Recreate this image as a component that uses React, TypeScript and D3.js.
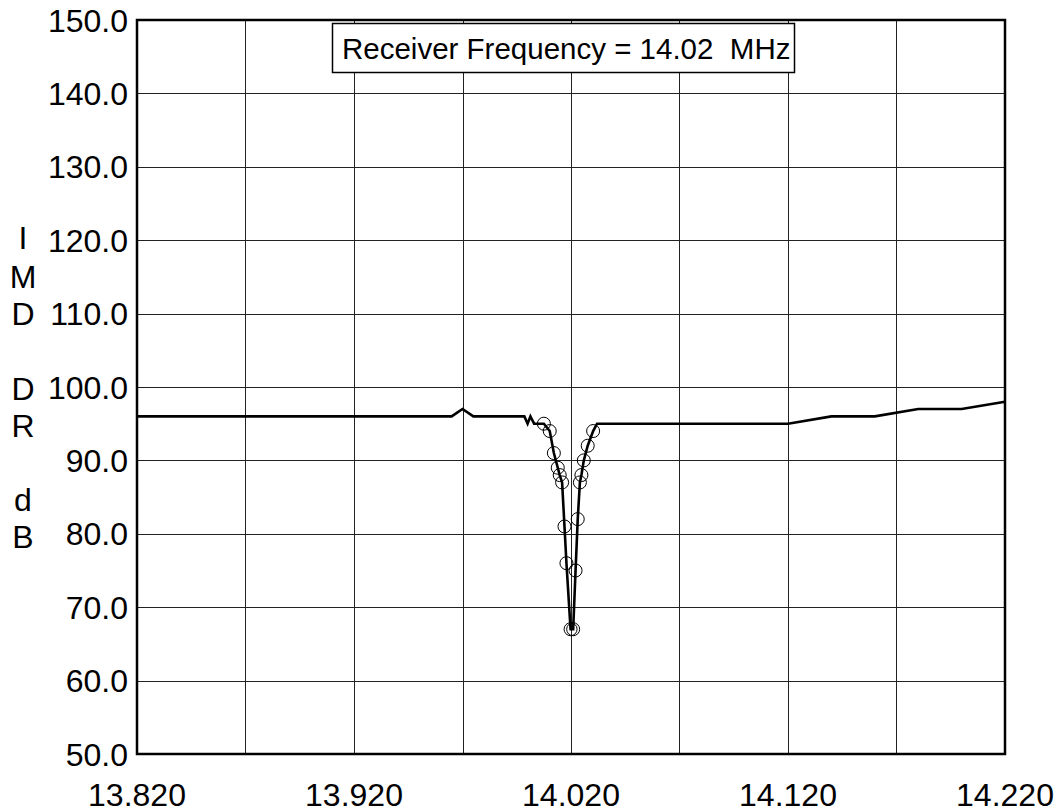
import { useEffect, useRef } from "react";
import * as d3 from "d3";

// trace (MHz, dB)
const lineFreq = [
  13.82, 13.965, 13.97, 13.975, 13.9985, 14.0, 14.0013, 14.003,
  14.0075, 14.0102, 14.0121, 14.0139, 14.0148, 14.0159, 14.017, 14.0179, 14.0198,
  14.021, 14.0221, 14.0231, 14.0241, 14.0248, 14.0259, 14.0277, 14.0302,
  14.032, 14.12, 14.14, 14.16, 14.18, 14.2, 14.22,
];
const lineDb = [
  96, 96, 97, 96, 96, 95, 96, 95,
  95, 94, 91, 89, 88, 87, 81, 76, 67,
  67, 75, 82, 87, 88, 90, 92, 94,
  95, 95, 96, 96, 97, 97, 98,
];

// measured points shown with circles
const markFreq = [
  14.0075, 14.0102, 14.0121, 14.0139, 14.0148, 14.0159, 14.017, 14.0179, 14.0198,
  14.021, 14.0221, 14.0231, 14.0241, 14.0248, 14.0259, 14.0277, 14.0302,
];
const markDb = [95, 94, 91, 89, 88, 87, 81, 76, 67, 67, 75, 82, 87, 88, 90, 92, 94];

const xTicks = [13.82, 13.87, 13.92, 13.97, 14.02, 14.07, 14.12, 14.17, 14.22];
const xLabels = ["13.820", "", "13.920", "", "14.020", "", "14.120", "", "14.220"];
const yTicks = [50, 60, 70, 80, 90, 100, 110, 120, 130, 140, 150];

const yTitle = [
  { ch: "I", y: 238 },
  { ch: "M", y: 277 },
  { ch: "D", y: 314 },
  { ch: "D", y: 389 },
  { ch: "R", y: 426 },
  { ch: "d", y: 500 },
  { ch: "B", y: 537 },
];
const titleText = "Receiver Frequency = 14.02  MHz";

const ImdChart = () => {
  const chartContainer = useRef(null);

  useEffect(() => {
    const left = 137;
    const right = 1005;
    const top = 20;
    const bottom = 754;
    const font = "Arial, 'Liberation Sans', sans-serif";

    const x = d3.scaleLinear().domain([13.82, 14.22]).range([left, right]);
    const y = d3.scaleLinear().domain([50, 150]).range([bottom, top]);

    const root = d3.select(chartContainer.current);
    root.selectAll("*").remove();

    const svg = root
      .append("svg")
      .attr("width", 1061)
      .attr("height", 812)
      .style("position", "absolute")
      .style("left", "0px")
      .style("top", "0px")
      .style("background", "#fff");

    // grid
    svg
      .append("g")
      .selectAll("line")
      .data(xTicks.slice(1, -1))
      .enter()
      .append("line")
      .attr("x1", (d) => Math.round(x(d)) + 0.5)
      .attr("x2", (d) => Math.round(x(d)) + 0.5)
      .attr("y1", top)
      .attr("y2", bottom)
      .attr("stroke", "#222")
      .attr("stroke-width", 1);

    svg
      .append("g")
      .selectAll("line")
      .data(yTicks.slice(1, -1))
      .enter()
      .append("line")
      .attr("x1", left)
      .attr("x2", right)
      .attr("y1", (d) => Math.round(y(d)) + 0.5)
      .attr("y2", (d) => Math.round(y(d)) + 0.5)
      .attr("stroke", "#222")
      .attr("stroke-width", 1);

    // frame
    svg
      .append("rect")
      .attr("x", left)
      .attr("y", top)
      .attr("width", right - left)
      .attr("height", bottom - top)
      .attr("fill", "none")
      .attr("stroke", "#000")
      .attr("stroke-width", 2.5);

    // tick labels
    svg
      .append("g")
      .selectAll("text")
      .data(yTicks)
      .enter()
      .append("text")
      .attr("x", 128)
      .attr("y", (d) => y(d) + 11.5)
      .attr("text-anchor", "end")
      .attr("font-family", font)
      .attr("font-size", 32)
      .attr("fill", "#000")
      .text((d) => d.toFixed(1));

    svg
      .append("g")
      .selectAll("text")
      .data(xTicks)
      .enter()
      .append("text")
      .attr("x", (d) => x(d))
      .attr("y", 806)
      .attr("text-anchor", "middle")
      .attr("font-family", font)
      .attr("font-size", 32)
      .attr("fill", "#000")
      .text((d, i) => xLabels[i]);

    // y title, one letter per row
    svg
      .append("g")
      .selectAll("text")
      .data(yTitle)
      .enter()
      .append("text")
      .attr("x", 23)
      .attr("y", (d) => d.y + 11)
      .attr("text-anchor", "middle")
      .attr("font-family", font)
      .attr("font-size", 32)
      .attr("fill", "#000")
      .text((d) => d.ch);

    // trace
    const pts: [number, number][] = lineFreq.map((f, i) => [f, lineDb[i]]);
    const line = d3
      .line<[number, number]>()
      .x((d) => x(d[0]))
      .y((d) => y(d[1]));

    svg
      .append("path")
      .datum(pts)
      .attr("d", line)
      .attr("fill", "none")
      .attr("stroke", "#000")
      .attr("stroke-width", 2.6)
      .attr("stroke-linejoin", "miter");

    svg
      .append("g")
      .selectAll("circle")
      .data(markFreq)
      .enter()
      .append("circle")
      .attr("cx", (d) => x(d))
      .attr("cy", (d, i) => y(markDb[i]))
      .attr("r", 6.5)
      .attr("fill", "none")
      .attr("stroke", "#000")
      .attr("stroke-width", 1);

    // legend box
    svg
      .append("rect")
      .attr("x", 332.5)
      .attr("y", 23.5)
      .attr("width", 462)
      .attr("height", 49)
      .attr("fill", "#fff")
      .attr("stroke", "#000")
      .attr("stroke-width", 1.5);

    svg
      .append("text")
      .attr("x", 342)
      .attr("y", 59)
      .attr("font-family", font)
      .attr("font-size", 29.5)
      .attr("fill", "#000")
      .style("white-space", "pre")
      .text(titleText);
  }, []);

  return <div ref={chartContainer}></div>;
};

export default function App() {
  return <ImdChart />;
}
